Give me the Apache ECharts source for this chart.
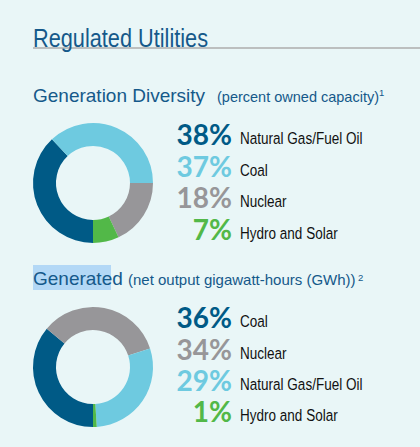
<!DOCTYPE html>
<html>
<head>
<meta charset="utf-8">
<script src="https://cdn.jsdelivr.net/npm/echarts@6/dist/echarts.min.js"></script>
<style>
html,body{margin:0;padding:0;background:#e9f6f7;}
#chart{width:420px;height:447px;}
</style>
</head>
<body>
<div id="chart"></div>
<script>
// ---- data ----
const mainTitle = 'Regulated Utilities';
const diversityTitle = 'Generation Diversity';
const diversityNote = '(percent owned capacity)';
const diversityFootnote = '1';
const diversityLabels = ['Natural Gas/Fuel Oil', 'Coal', 'Nuclear', 'Hydro and Solar'];
const diversityValues = [38, 37, 18, 7];

const generatedTitle = 'Generated';
const generatedNote = '(net output gigawatt-hours (GWh))';
const generatedFootnote = '2';
const generatedLabels = ['Coal', 'Nuclear', 'Natural Gas/Fuel Oil', 'Hydro and Solar'];
const generatedValues = [36, 34, 29, 1];

// ---- styles ----
const DARK = '#005a86', LIGHT = '#6ecae0', GRAY = '#979699', GREEN = '#52b848';
const diversityColors = [DARK, LIGHT, GRAY, GREEN];
const generatedColors = [DARK, GRAY, LIGHT, GREEN];
const headColor = '#15598a';
const sans = "'Liberation Sans',Arial,sans-serif";
const pctFont = "Lato,'Noto Sans',sans-serif";

const chart = echarts.init(document.getElementById('chart'), null, {renderer: 'svg'});

function pieSeries(values, labels, colors, center) {
  return {
    type: 'pie',
    center: center,
    radius: [37, 60],
    startAngle: -90,
    clockwise: true,
    silent: true,
    label: {show: false},
    labelLine: {show: false},
    emphasis: {disabled: true},
    itemStyle: {borderWidth: 0},
    data: values.map((v, i) => ({name: labels[i], value: v, itemStyle: {color: colors[i]}}))
  };
}

// baseline -> middle offset
function txt(x, base, text, size, family, color, align, weight, sx) {
  return {
    type: 'text',
    x: x,
    y: base - size * 0.34,
    scaleX: sx || 1,
    silent: true,
    style: {
      text: text,
      fontSize: size,
      fontFamily: family,
      fontWeight: weight || 'normal',
      fill: color,
      align: align || 'left',
      verticalAlign: 'middle'
    }
  };
}

function legendRows(values, labels, colors, baselines) {
  const els = [];
  values.forEach((v, i) => {
    els.push(txt(232, baselines[i], v + '%', 28, pctFont, colors[i], 'right', 'bold'));
    els.push(txt(240, baselines[i], labels[i], 16.5, sans, '#111111', 'left', 'normal', 0.82));
  });
  return els;
}

const graphics = [
  {type: 'line', silent: true, shape: {x1: 33, y1: 48, x2: 420, y2: 48}, style: {stroke: '#adadad', lineWidth: 1.5}},
  txt(33, 47, mainTitle, 26.5, sans, headColor, 'left', 'normal', 0.82),
  txt(33, 102, diversityTitle, 19, sans, headColor),
  txt(217, 102, diversityNote, 14.5, sans, headColor),
  txt(379, 96, diversityFootnote, 9.5, sans, headColor),
  {type: 'rect', silent: true, shape: {x: 33, y: 265, width: 78, height: 25}, style: {fill: '#b3d8f6'}},
  txt(33, 285, generatedTitle, 19, sans, headColor),
  txt(128, 285, generatedNote, 15, sans, headColor),
  txt(358, 281, generatedFootnote, 9.5, sans, headColor)
].concat(
  legendRows(diversityValues, diversityLabels, diversityColors, [144, 175.5, 207, 238.5]),
  legendRows(generatedValues, generatedLabels, generatedColors, [327, 358.5, 389.5, 421])
);

chart.setOption({
  backgroundColor: '#e9f6f7',
  animation: false,
  series: [
    pieSeries(diversityValues, diversityLabels, diversityColors, [93, 183]),
    pieSeries(generatedValues, generatedLabels, generatedColors, [93, 367])
  ],
  graphic: graphics
});
</script>
</body>
</html>
